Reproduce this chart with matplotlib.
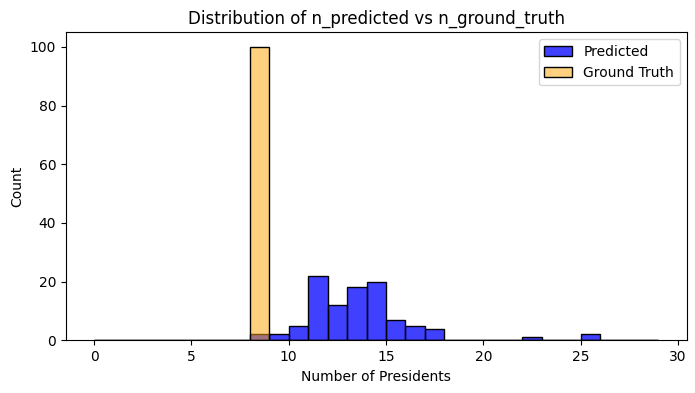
import matplotlib
matplotlib.use("Agg")
import matplotlib.pyplot as plt
import matplotlib.colors as mcolors
import numpy as np

bin_edges = list(range(0, 30))  # 0..29
predicted_counts = [0, 0, 0, 0, 0, 0, 0, 0, 2, 2, 5, 22, 12, 18, 20, 7, 5, 4, 0, 0, 0, 0, 1, 0, 0, 2, 0, 0, 0]
ground_truth_counts = [0, 0, 0, 0, 0, 0, 0, 0, 100, 0, 0, 0, 0, 0, 0, 0, 0, 0, 0, 0, 0, 0, 0, 0, 0, 0, 0, 0, 0]

fig = plt.figure(figsize=(6.95, 3.93), dpi=100)
ax = fig.add_axes([0.0950, 0.1341, 0.8928, 0.7837])

lefts = np.array(bin_edges[:-1])
widths = np.diff(bin_edges)
ax.bar(lefts, predicted_counts, width=widths, align='edge',
       facecolor=mcolors.to_rgba('blue', 0.75),
       edgecolor='black', linewidth=1, label='Predicted')
ax.bar(lefts, ground_truth_counts, width=widths, align='edge',
       facecolor=mcolors.to_rgba('orange', 0.5),
       edgecolor='black', linewidth=1, label='Ground Truth')

ax.set_xlim(-1.45, 30.45)
ax.set_ylim(0, 105)
ax.set_xlabel('Number of Presidents')
ax.set_ylabel('Count')
ax.set_title('Distribution of n_predicted vs n_ground_truth')
ax.legend(loc='upper right')

fig.savefig('out.png', dpi=100)
